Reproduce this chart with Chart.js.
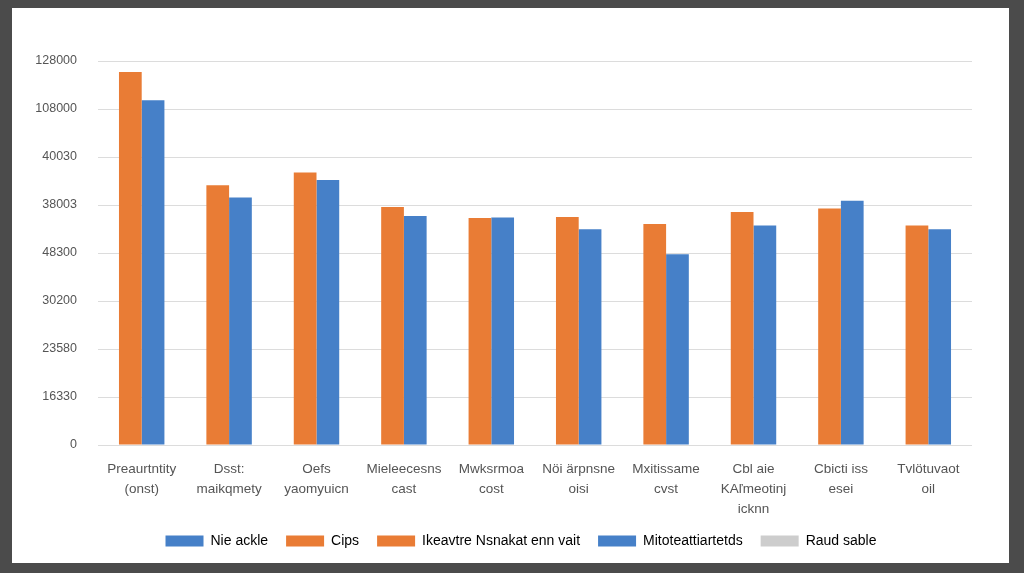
<!DOCTYPE html>
<html>
<head>
<meta charset="utf-8">
<script src="https://cdn.jsdelivr.net/npm/chart.js@4.4.1/dist/chart.umd.min.js"></script>
<style>
  html, body { margin: 0; padding: 0; background: #4b4b4b; width: 1024px; height: 573px; overflow: hidden; }
  #card { position: absolute; left: 12px; top: 8px; width: 997px; height: 555px; background: #fff; }
  #wrap { position: absolute; left: 12px; top: 8px; width: 997px; height: 557px; }
</style>
</head>
<body>
<div id="card"></div>
<div id="wrap"><canvas id="barChart"></canvas></div>
<script>
var categories = [
    ['Preaurtntity', '(onst)'],
    ['Dsst:', 'maikqmety'],
    ['Oefs', 'yaomyuicn'],
    ['Mieleecesns', 'cast'],
    ['Mwksrmoa', 'cost'],
    ['Nöi ärpnsne', 'oisi'],
    ['Mxitissame', 'cvst'],
    ['Cbl aie', 'KAľmeotinj', 'icknn'],
    ['Cbicti iss', 'esei'],
    ['Tvlötuvaot', 'oil']
];
var orangeValues = [124300, 86600, 90800, 79300, 75700, 76000, 73700, 77700, 78800, 73200];
var blueValues = [114900, 82500, 88300, 76300, 75800, 71900, 63600, 73200, 81400, 71900];
var yTickLabels = ['0', '16330', '23580', '30200', '48300', '38003', '40030', '108000', '128000'];
var legendNames = ['Nie ackle', 'Cips', 'Ikeavtre Nsnakat enn vait', 'Mitoteattiartetds', 'Raud sable'];

var orange = '#e97c35';
var blue = '#4680c8';
var legendColors = [blue, orange, orange, blue, '#cdcdcd'];
var font = "'Liberation Sans', Arial, sans-serif";

// nudge the legend row to the right, the reference centres it on the card
var legendShift = {
    id: 'legendShift',
    afterLayout: function (chart) {
        chart.legend.left += 29;
        chart.legend.right += 29;
    }
};

var ctx = document.getElementById('barChart').getContext('2d');
var myChart = new Chart(ctx, {
    type: 'bar',
    data: {
        labels: categories,
        datasets: [{
            label: 'Cips',
            data: orangeValues,
            backgroundColor: orange,
            categoryPercentage: 0.52,
            barPercentage: 1.0
        }, {
            label: 'Nie ackle',
            data: blueValues,
            backgroundColor: blue,
            categoryPercentage: 0.52,
            barPercentage: 1.0
        }]
    },
    plugins: [legendShift],
    options: {
        responsive: true,
        maintainAspectRatio: false,
        animation: false,
        layout: {
            padding: { top: 53, right: 37, bottom: 7, left: 0 }
        },
        plugins: {
            tooltip: { enabled: false },
            legend: {
                position: 'bottom',
                onClick: function () {},
                labels: {
                    boxWidth: 38,
                    boxHeight: 11,
                    padding: 18,
                    color: '#555',
                    font: { family: font, size: 14 },
                    generateLabels: function () {
                        return legendNames.map(function (name, i) {
                            return {
                                text: name,
                                fillStyle: legendColors[i],
                                strokeStyle: legendColors[i],
                                lineWidth: 0,
                                hidden: false
                            };
                        });
                    }
                }
            }
        },
        scales: {
            x: {
                grid: { display: false, drawTicks: false },
                border: { display: false },
                ticks: {
                    color: '#555',
                    padding: 14,
                    maxRotation: 0,
                    autoSkip: false,
                    font: { family: font, size: 13.5, lineHeight: 1.48 }
                },
                afterFit: function (scale) { scale.height = 71; }
            },
            y: {
                min: 0,
                max: 128000,
                grid: { color: '#dcdcdc', lineWidth: 1, drawTicks: false },
                border: { display: false },
                ticks: {
                    stepSize: 16000,
                    color: '#555',
                    padding: 21,
                    font: { family: font, size: 12.5 },
                    callback: function (value, index) { return yTickLabels[index]; }
                },
                afterFit: function (scale) { scale.width = 86; }
            }
        }
    }
});
</script>
</body>
</html>
